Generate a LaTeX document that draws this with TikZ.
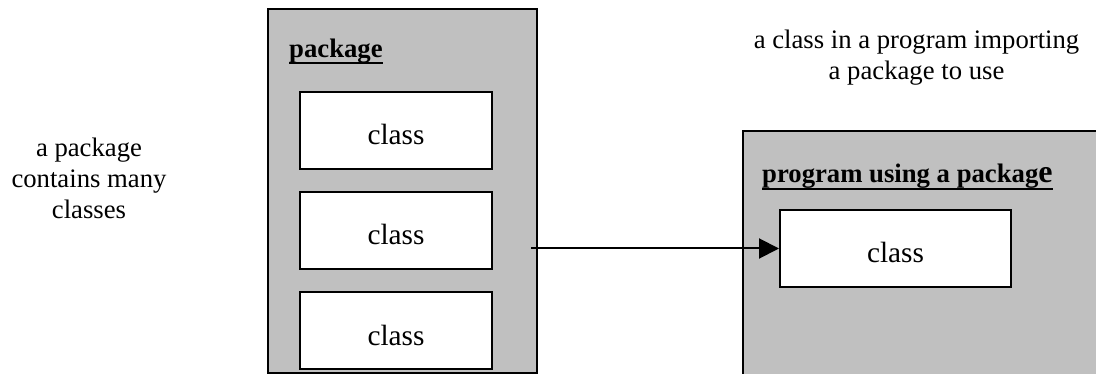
\documentclass[tikz,border=0pt]{standalone}
\usepackage{fontspec}
\setmainfont{Liberation Serif}
\usetikzlibrary{arrows.meta,positioning}

\definecolor{boxgray}{HTML}{C0C0C0}

\begin{document}
\begin{tikzpicture}[
  x=1pt, y=-1pt,
  group/.style={draw, line width=2pt, fill=boxgray, inner sep=0pt},
  classbox/.style={draw, line width=2pt, fill=white, minimum width=192pt, minimum height=77pt, text height=29pt, text depth=0pt, font=\fontsize{29.3}{34}\selectfont},
  title/.style={anchor=base west, inner sep=0pt, font=\fontsize{26.7}{31}\selectfont\bfseries},
  uline/.style={line width=2pt},
  note/.style={align=center, inner sep=0pt, font=\fontsize{26.7}{31.3}\selectfont},
  arr/.style={-{Triangle[length=20pt, width=20pt]}, line width=2pt}
]
\useasboundingbox (0,0) rectangle (1096,374);

% the package and its classes
\node[group, minimum width=269pt, minimum height=364pt] (pkg) at (402.5,191) {};
\node[title] (pkgtitle) at (289,58) {package};
\draw[uline] ([yshift=-5.5pt]pkgtitle.base west) -- ([yshift=-5.5pt]pkgtitle.base east);
\node[classbox] (cls1) at (396,130.5) {class};
\node[classbox, below=21pt of cls1] (cls2) {class};
\node[classbox, below=21pt of cls2] (cls3) {class};

% program importing the package
\node[group, anchor=north west, minimum width=380pt, minimum height=260pt] (prog) at (742,130) {};
\node[title] (progtitle) at (762,183) {program using a packag{\fontsize{32}{32}\selectfont e}};
\draw[uline] ([yshift=-6.5pt]progtitle.base west) -- ([yshift=-6.5pt]progtitle.base east);
\node[classbox, minimum width=231pt] (progcls) at (895.5,248.5) {class};

\coordinate (src) at (531,248.5);
\draw[arr] (src) -- (progcls.west);

\node[note] (pkgnote) at (89,178.5) {a package\\contains many\\classes};
\node[note] (prognote) at (916.5,57.5) {a class in a program importing\\a package to use};
\end{tikzpicture}
\end{document}
